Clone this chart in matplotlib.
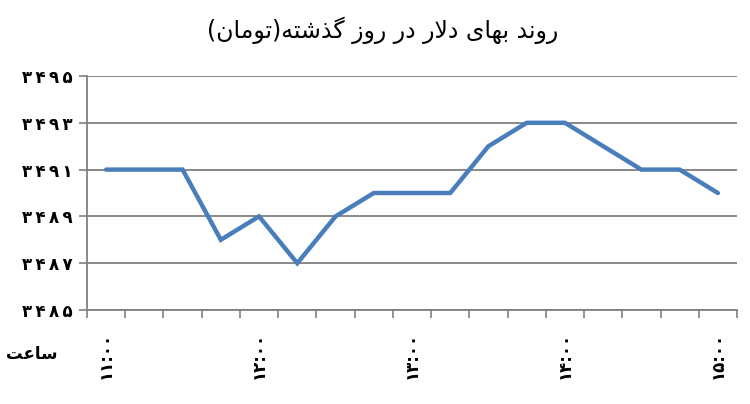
import numpy as np
import matplotlib
matplotlib.use("Agg")
import matplotlib.pyplot as plt

# داده ها: قیمت دلار هر ۱۵ دقیقه از ساعت ۱۱ تا ۱۵
prices = [3491, 3491, 3491, 3488, 3489, 3487, 3489, 3490, 3490, 3490,
          3492, 3493, 3493, 3492, 3491, 3491, 3490]
hour_labels = ["۱۱:۰۰", "۱۲:۰۰", "۱۳:۰۰", "۱۴:۰۰", "۱۵:۰۰"]
hour_pos = [0, 4, 8, 12, 16]
y_ticks = [3485, 3487, 3489, 3491, 3493, 3495]
title_text = "روند بهای دلار در روز گذشته(تومان)"
xlabel_text = "ساعت"

# شکل دادن حروف عربی/فارسی (matplotlib خودش این کار را نمی کند)
# (isolated, final, initial, medial)
FORMS = {
    "ا": ("\uFE8D", "\uFE8E", None, None),
    "ب": ("\uFE8F", "\uFE90", "\uFE91", "\uFE92"),
    "ت": ("\uFE95", "\uFE96", "\uFE97", "\uFE98"),
    "د": ("\uFEA9", "\uFEAA", None, None),
    "ذ": ("\uFEAB", "\uFEAC", None, None),
    "ر": ("\uFEAD", "\uFEAE", None, None),
    "ز": ("\uFEAF", "\uFEB0", None, None),
    "س": ("\uFEB1", "\uFEB2", "\uFEB3", "\uFEB4"),
    "ش": ("\uFEB5", "\uFEB6", "\uFEB7", "\uFEB8"),
    "ع": ("\uFEC9", "\uFECA", "\uFECB", "\uFECC"),
    "ل": ("\uFEDD", "\uFEDE", "\uFEDF", "\uFEE0"),
    "م": ("\uFEE1", "\uFEE2", "\uFEE3", "\uFEE4"),
    "ن": ("\uFEE5", "\uFEE6", "\uFEE7", "\uFEE8"),
    "ه": ("\uFEE9", "\uFEEA", "\uFEEB", "\uFEEC"),
    "و": ("\uFEED", "\uFEEE", None, None),
    "ی": ("\uFBFC", "\uFBFD", "\uFBFE", "\uFBFF"),
    "گ": ("\uFB92", "\uFB93", "\uFB94", "\uFB95"),
    "لا": ("\uFEFB", "\uFEFC", None, None),
}


def dual(c):
    return c in FORMS and FORMS[c][2] is not None


def shape(s):
    s = s.replace("لا", "\x01")
    chars = ["لا" if c == "\x01" else c for c in s]
    out = []
    for i, c in enumerate(chars):
        if c not in FORMS:
            out.append({"(": ")", ")": "("}.get(c, c))
            continue
        prev = chars[i - 1] if i > 0 else None
        nxt = chars[i + 1] if i < len(chars) - 1 else None
        join_prev = prev is not None and dual(prev)
        join_next = dual(c) and nxt is not None and nxt in FORMS
        iso, fin, ini, med = FORMS[c]
        if join_prev and join_next:
            out.append(med)
        elif join_prev:
            out.append(fin)
        elif join_next:
            out.append(ini)
        else:
            out.append(iso)
    return "".join(out[::-1])


def spaced(s):
    # ارقام با فاصله کم از هم، مثل تصویر اصلی
    return "\u2009".join(s)


def fa_digits(v):
    return "".join("۰۱۲۳۴۵۶۷۸۹"[int(d)] for d in str(v))


plt.rcParams['font.family'] = ['DejaVu Sans']

fig = plt.figure(figsize=(7.5, 4.04), dpi=100)
ax = fig.add_axes([87 / 750, 1 - 310 / 404, 650 / 750, 234 / 404])

x = np.arange(len(prices))
ax.plot(x, prices, color="#4A7EBB", linewidth=3.2, solid_capstyle="round",
        solid_joinstyle="miter", zorder=3)

ax.set_xlim(-0.5, len(prices) - 0.5)
ax.set_ylim(3485, 3495)
ax.set_yticks(y_ticks)
ax.set_yticklabels([spaced(fa_digits(v)) for v in y_ticks],
                   fontsize=12, fontweight="bold")
ax.grid(axis="y", color="#808080", linewidth=1.3)
ax.set_axisbelow(True)

ax.set_xticks(hour_pos)
ax.set_xticklabels(hour_labels, rotation=90, fontsize=12, fontweight="bold")
ax.set_xticks(np.arange(-0.5, len(prices), 1), minor=True)
ax.tick_params(axis="x", which="major", length=0, pad=16)
ax.tick_params(axis="x", which="minor", length=6, direction="out",
               color="#808080", width=1.2)
ax.tick_params(axis="y", length=6, color="#808080", width=1.2, pad=4.5)

for side in ["top", "right"]:
    ax.spines[side].set_visible(False)
for side in ["left", "bottom"]:
    ax.spines[side].set_color("#808080")
    ax.spines[side].set_linewidth(1.3)

fig.text(383 / 750, 1 - 30 / 404, shape(title_text), ha="center", va="center",
         fontsize=17)
fig.text(32 / 750, 1 - 354 / 404, shape(xlabel_text), ha="center", va="center",
         fontsize=12, fontweight="bold")

fig.savefig("out.png", dpi=100)
